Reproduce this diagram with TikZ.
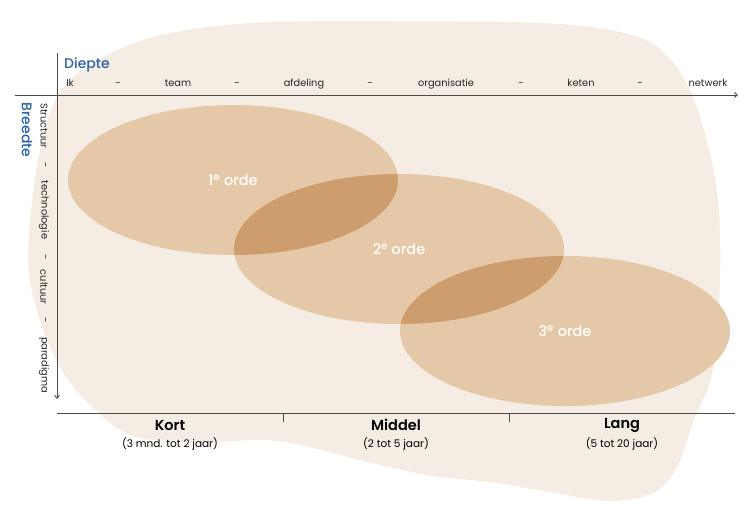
\documentclass[tikz,border=0pt]{standalone}
\usepackage{fontspec}
\setmainfont{Poppins}
\newfontfamily\popmed{Poppins}[UprightFont=*-Medium]
\newfontfamily\popsemi{Poppins}[UprightFont=*-SemiBold]
\usetikzlibrary{arrows.meta}
\definecolor{blobbg}{HTML}{F5ECE3}
\definecolor{ordefill}{HTML}{E4C8A8}
\definecolor{ordedark}{HTML}{CD9D6E}
\definecolor{axisblue}{HTML}{2E62A8}
\definecolor{axisgray}{HTML}{4A4A4A}
\tikzset{
  axisline/.style={draw=axisgray,line width=0.9pt},
  axislbl/.style={font=\fontsize{9.8}{11}\selectfont,text=black!85,inner sep=1pt},
  axistitle/.style={font=\fontsize{14}{16}\selectfont\popmed,text=axisblue,inner sep=1pt},
  ordelbl/.style={font=\fontsize{14.5}{16}\selectfont\popmed,text=white},
  termlbl/.style={font=\fontsize{14.5}{16}\selectfont\popsemi,inner sep=1pt},
  termsub/.style={font=\fontsize{10.5}{12}\selectfont,inner sep=1pt},
}
\begin{document}
\begin{tikzpicture}[x=1pt,y=-1pt]
\useasboundingbox (0,0) rectangle (750,515);
% achtergrond
\fill[blobbg] plot[smooth cycle,tension=0.55] coordinates {
  (40,150) (67,83) (143,40) (250,23) (400,21) (540,23) (610,30) (655,45)
  (686,82) (706,137) (718,200) (720,280) (713,370) (694,420) (678,465)
  (655,492) (610,501) (550,492) (490,482) (433,476) (367,462) (317,449)
  (267,440) (200,442) (133,436) (90,405) (60,367) (40,320) (28,257)};
% ordes
\fill[ordefill] (233,180) ellipse (165 and 75);
\fill[ordefill] (399,249) ellipse (165 and 75);
\fill[ordefill] (565,331) ellipse (165 and 75);
\begin{scope}
  \clip (233,180) ellipse (165 and 75);
  \fill[ordedark] (399,249) ellipse (165 and 75);
\end{scope}
\begin{scope}
  \clip (399,249) ellipse (165 and 75);
  \fill[ordedark] (565,331) ellipse (165 and 75);
\end{scope}
\node[ordelbl] (orde1) at (233,180) {1\textsuperscript{e} orde};
\node[ordelbl] (orde2) at (399,249) {2\textsuperscript{e} orde};
\node[ordelbl] (orde3) at (565,331) {3\textsuperscript{e} orde};
% assen
\coordinate (hstart) at (15,95);
\coordinate (hend) at (738,95);
\coordinate (vstart) at (57,53);
\coordinate (vend) at (57,399);
\draw[axisline,-{Straight Barb[length=3pt,width=5pt]}] (hstart) -- (hend);
\draw[axisline,-{Straight Barb[length=3pt,width=5pt]}] (vstart) -- (vend);
\node[axistitle,anchor=west] (diepte) at (63,65) {Diepte};
\node[axistitle,rotate=-90] (breedte) at (27,130) {Breedte};
\foreach \px/\txt [count=\i] in {70/Ik,118/-,178/team,237/-,304/afdeling,370/-,446/organisatie,521/-,581/keten,640/-,708/netwerk}
  \node[axislbl,anchor=base] (diep\i) at (\px,86) {\txt};
\foreach \py/\txt [count=\i] in {126/Structuur,165/-,210/technologie,257/-,287/cultuur,320/-,365/paradigma}
  \node[axislbl,rotate=-90] (breed\i) at (44,\py) {\txt};
% termijnen
\coordinate (tstart) at (57,413);
\coordinate (tend) at (735,413);
\draw[axisline] (tstart) -- (tend);
\coordinate (tick1) at (283,413);
\coordinate (tick2) at (509,413);
\draw[axisline] (tick1) -- ++(0,9);
\draw[axisline] (tick2) -- ++(0,9);
\node[termlbl] (kort) at (170,425) {Kort};
\node[termsub] (kortsub) at (170,444) {(3 mnd. tot 2 jaar)};
\node[termlbl] (middel) at (396,425) {Middel};
\node[termsub] (middelsub) at (396,444) {(2 tot 5 jaar)};
\node[termlbl] (lang) at (622,425) {Lang};
\node[termsub] (langsub) at (622,444) {(5 tot 20 jaar)};
\end{tikzpicture}
\end{document}
